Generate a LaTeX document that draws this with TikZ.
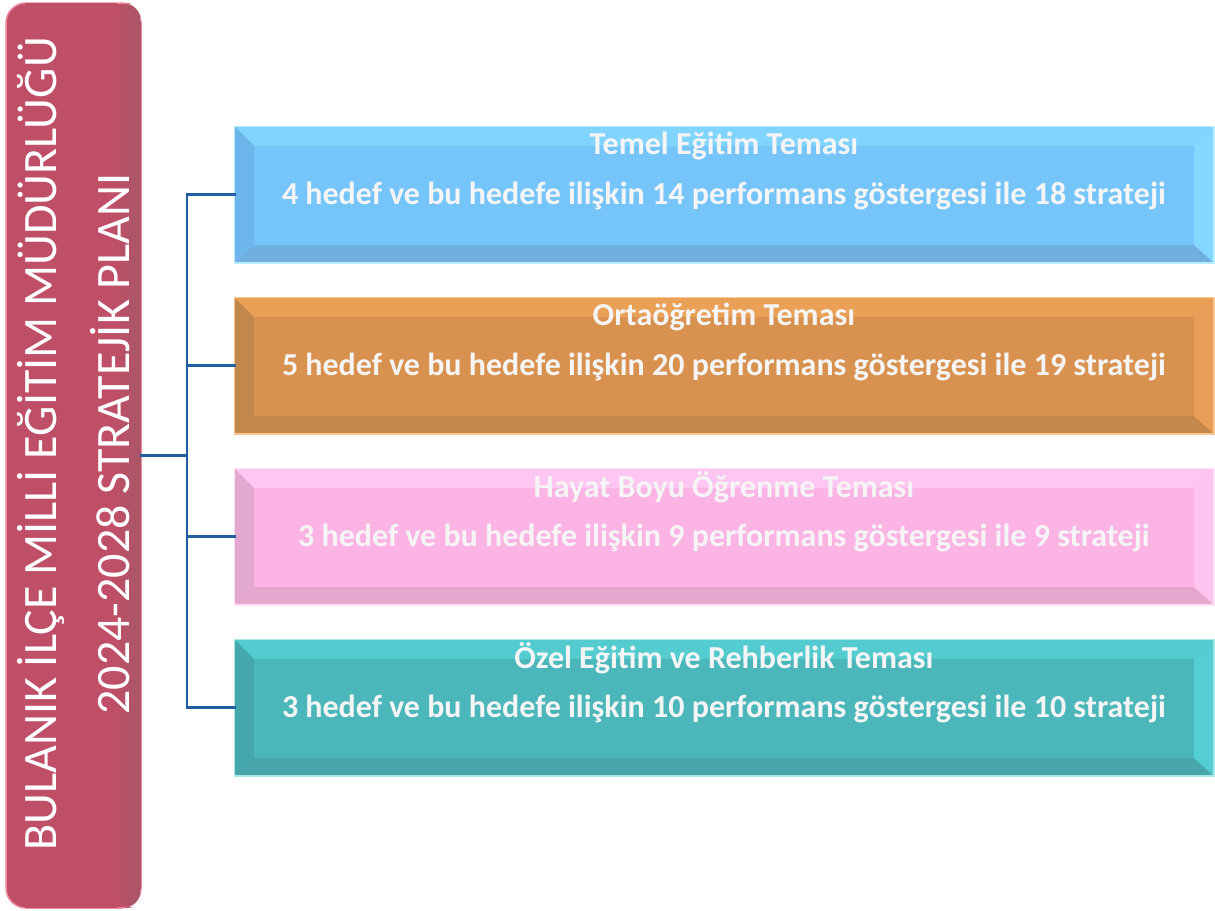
\documentclass[tikz,border=0pt]{standalone}
\usepackage{fontspec}
\setmainfont{Carlito}
\usetikzlibrary{calc}
\definecolor{crim}{HTML}{BE4F66}
\definecolor{crimdark}{HTML}{A85768}
\definecolor{crimlight}{HTML}{F08AA0}
\definecolor{conncol}{HTML}{1F5E9F}
\definecolor{bB}{HTML}{75C5FB}\definecolor{bT}{HTML}{80D4FE}\definecolor{bL}{HTML}{6DB5EA}\definecolor{bD}{HTML}{6EAEE0}\definecolor{bR}{HTML}{82D8FF}\definecolor{bO}{HTML}{B8ECFF}
\definecolor{oB}{HTML}{D8914F}\definecolor{oT}{HTML}{EAA056}\definecolor{oL}{HTML}{C2874C}\definecolor{oD}{HTML}{C4884C}\definecolor{oR}{HTML}{E89E56}\definecolor{oO}{HTML}{F8C690}
\definecolor{pB}{HTML}{FBB4E4}\definecolor{pT}{HTML}{FFC6F2}\definecolor{pL}{HTML}{E3A8D0}\definecolor{pD}{HTML}{E4A8CE}\definecolor{pR}{HTML}{FFC3EF}\definecolor{pO}{HTML}{FFE0F6}
\definecolor{tB}{HTML}{4BB7BB}\definecolor{tT}{HTML}{53CBCF}\definecolor{tL}{HTML}{45A7AB}\definecolor{tD}{HTML}{46A6AA}\definecolor{tR}{HTML}{55CED3}\definecolor{tO}{HTML}{A8E6E8}
\tikzset{
  planbox/.style={rounded corners=20pt, fill=crim, draw=crimlight, line width=1.5pt, minimum width=135pt, minimum height=905pt, inner sep=0pt},
  plantext/.style={text=white, rotate=90, align=center, font=\fontsize{48}{73}\selectfont},
  theme/.style={minimum width=978pt, minimum height=135pt, inner sep=0pt, line width=1.5pt},
  titletext/.style={text=white!96!black, font=\bfseries\fontsize{32}{36}\selectfont},
  conn/.style={draw=conncol, line width=2.6pt, line cap=rect},
}
\newcommand\themebox[3]{% name, y, color prefix
  \node[theme, fill=#3B, draw=#3O] (#1) at (724,#2) {};
  \fill[#3T] (#1.north west) -- (#1.north east) -- ([shift={(-20,20)}]#1.north east) -- ([shift={(20,20)}]#1.north west) -- cycle;
  \fill[#3L] (#1.north west) -- ([shift={(20,20)}]#1.north west) -- ([shift={(20,-18)}]#1.south west) -- (#1.south west) -- cycle;
  \fill[#3D] (#1.south west) -- ([shift={(20,-18)}]#1.south west) -- ([shift={(-20,-18)}]#1.south east) -- (#1.south east) -- cycle;
  \fill[#3R] (#1.north east) -- ([shift={(-20,20)}]#1.north east) -- ([shift={(-20,-18)}]#1.south east) -- (#1.south east) -- cycle;
  \fill[#3B] ([shift={(20,20)}]#1.north west) rectangle ([shift={(-20,-18)}]#1.south east);
  \draw[#3O, line width=1.5pt] (#1.north west) rectangle (#1.south east);
}
\begin{document}
\begin{tikzpicture}[x=1pt,y=-1pt]
\useasboundingbox (0,0) rectangle (1215,910);
\node[planbox] (plan) at (73.5,455.5) {};
\shade[left color=crim, right color=crimdark, rounded corners=18pt] ([shift={(110,1)}]plan.north west) -- ([shift={(-1,1)}]plan.north east) -- ([shift={(-1,-1)}]plan.south east) -- ([shift={(110,-1)}]plan.south west) -- cycle;
\fill[crim] ([shift={(20,1)}]plan.north west) rectangle ([shift={(112,-1)}]plan.south west);
\node[plantext] (plantitle) at (73.5,444) {BULANIK İLÇE MİLLİ EĞİTİM MÜDÜRLÜĞÜ\\2024-2028 STRATEJİK PLANI};

\themebox{t1}{194.5}{b}
\node[titletext] (t1a) at ([yshift=49pt]t1.center) {Temel Eğitim Teması};
\node[titletext] (t1b) at ([yshift=-1pt]t1.center) {4 hedef ve bu hedefe ilişkin 14 performans göstergesi ile 18 strateji};

\themebox{t2}{365.5}{o}
\node[titletext] (t2a) at ([yshift=49pt]t2.center) {Ortaöğretim Teması};
\node[titletext] (t2b) at ([yshift=-1pt]t2.center) {5 hedef ve bu hedefe ilişkin 20 performans göstergesi ile 19 strateji};

\themebox{t3}{536.5}{p}
\node[titletext] (t3a) at ([yshift=49pt]t3.center) {Hayat Boyu Öğrenme Teması};
\node[titletext] (t3b) at ([yshift=-1pt]t3.center) {3 hedef ve bu hedefe ilişkin 9 performans göstergesi ile 9 strateji};

\themebox{t4}{707.5}{t}
\node[titletext] (t4a) at ([yshift=49pt]t4.center) {Özel Eğitim ve Rehberlik Teması};
\node[titletext] (t4b) at ([yshift=-1pt]t4.center) {3 hedef ve bu hedefe ilişkin 10 performans göstergesi ile 10 strateji};

\coordinate (bus) at (187,455.5);
\draw[conn] (plan.east) -- (bus);
\draw[conn] (bus |- t1.west) -- (bus |- t4.west);
\draw[conn] (bus |- t1.west) -- (t1.west);
\draw[conn] (bus |- t2.west) -- (t2.west);
\draw[conn] (bus |- t3.west) -- (t3.west);
\draw[conn] (bus |- t4.west) -- (t4.west);
\end{tikzpicture}
\end{document}
